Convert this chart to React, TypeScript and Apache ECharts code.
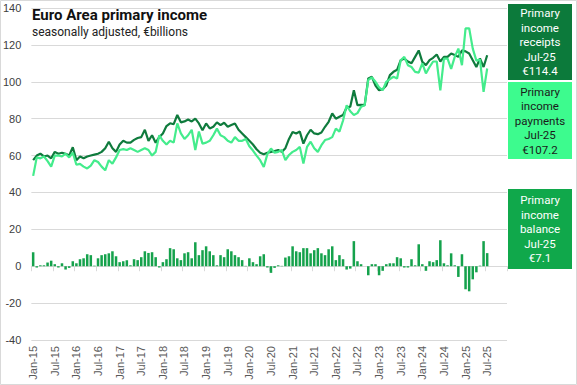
import React, { useEffect, useRef } from "react";
import * as echarts from "echarts";

const MONTHS = ["Jan", "Feb", "Mar", "Apr", "May", "Jun", "Jul", "Aug", "Sep", "Oct", "Nov", "Dec"];
const YEARS = ["15", "16", "17", "18", "19", "20", "21", "22", "23", "24", "25"];
const categories: string[] = [];
YEARS.forEach((y) => MONTHS.forEach((m) => categories.push(`${m}-${y}`)));

const receipts = [
  57.5, 60, 61, 59.5, 60, 58.5, 62, 61, 61.5, 61, 60, 64.5,
  57.5, 59.5, 58.5, 59.5, 60, 60.5, 61, 62, 64, 67.5, 64, 62,
  66, 68, 67, 67, 68.5, 69.5, 70, 74, 68, 71, 67, 70,
  72, 76, 77.5, 77, 82, 78, 78.5, 79.5, 78.5, 80, 77.4, 73.7,
  77.4, 74.7, 75.6, 78, 76.5, 77.8, 75.6, 76.5, 77.4, 74, 72, 70,
  68, 66, 63.4, 61.5, 60.7, 61.5, 62, 62.5, 63, 62, 64, 69,
  72.8, 72, 73, 66.5, 71, 74, 72, 71.6, 72.5, 75.6, 78.3, 82.8,
  80, 81, 82, 86, 86.5, 95.4, 87.3, 87.5, 87.3, 101.8, 102.7, 98,
  95.4, 96, 98, 103.6, 105.4, 106.5, 111.7, 112.6, 111, 110, 113.5, 117,
  110.8, 109, 111.7, 113, 114.8, 111, 113.5, 113.5, 115.3, 114.5, 113.5, 117,
  116.5, 115.3, 111.7, 108, 112.6, 108, 114.4,
];

const payments = [
  49, 59, 58.5, 59.5, 57, 54, 60, 60, 59.5, 61, 59, 61.5,
  55, 55.5, 54, 53, 54.5, 57.5, 56.5, 54, 52, 57.5, 55.6, 59,
  63, 63.5, 63, 64, 63, 62, 63, 64, 63, 60, 62, 71,
  68, 66, 68, 67, 77.4, 72, 69, 71, 74, 63, 73, 66.5,
  67, 68, 71, 74.6, 71, 70, 68, 67, 70, 68, 68, 69,
  65, 62.7, 60, 57.5, 53.8, 60.8, 63.8, 61.5, 62, 63, 57.5, 60.3,
  62, 63, 64.7, 55.7, 64.7, 67.5, 64, 62, 65.6, 68.4, 69, 70,
  74.6, 73, 79, 87.3, 84, 82, 83, 86.4, 87.3, 101, 102.3, 100,
  97, 95.4, 100, 101.5, 102.7, 101.8, 111.7, 113.5, 109, 108, 105.4, 105,
  110, 104.5, 108, 111, 111, 95.4, 112.6, 112.6, 107, 113.5, 118, 109,
  129, 129, 118, 111.5, 112, 94.5, 107.2,
];

const balance = [
  7.6, -0.7, 0.5, 0.5, 2, 3, 1.1, -0.7, 1.6, -1.8, -0.9, 2.7,
  1.6, 3.8, 4.3, 6.5, 6, 0.3, 4.3, 6, 6.5, 7, 8.1, 5.4,
  2.2, 2.7, 3.3, 0.5, 3.8, 3.3, 4.9, 8.1, 7.2, 7.6, 4.9, -0.7,
  2.2, 3.8, 9.8, 9.2, 4.3, 3.3, 7, 7.6, 4.3, 13, 6, 8.7,
  10.8, 8.1, 6, 0.5, 6, 4.9, 9.2, 8.1, 6, 4.9, 3.3, 0.2,
  4.3, 2.2, 1.1, 5.4, 6.5, -0.7, -3.6, -0.9, 0.5, 0.2, 4.7, 5.4,
  10.8, 8.1, 7.6, 9.8, 9.8, 7, 8.7, 9.8, 7, 6, 9.2, 10.8,
  3.3, 6, 3.8, -1.8, -1.3, 13.6, 2.7, 1.1, 0, -4.9, 1.1, 1.1,
  -4.9, -2.5, 1.1, 1.6, 1.6, 4.9, 4.3, -0.7, -0.7, 3.8, 0.5, 11.9,
  1.1, -2.5, 2.7, 2.2, 3.3, 14.1, 1.6, 0.5, 7, 0.5, -5.8, 6.5,
  -12.5, -13.6, -7.1, -3.3, 0.3, 13.6, 7.1,
];

const C_RECEIPTS = "#0f7b3d";
const C_PAYMENTS = "#44ec8c";
const C_BALANCE = "#15a24c";
const BOX_REC = "#0c7a3b";
const BOX_PAY = "#3dfb8e";
const BOX_BAL = "#10a84b";
const AXIS_TXT = "#595959";
const GRID = "#d9d9d9";

export default function App() {
  const ref = useRef<HTMLDivElement>(null);
  useEffect(() => {
    if (!ref.current) return;
    const chart = echarts.init(ref.current, null, { renderer: "svg" });
    const last = receipts.length - 1;
    const lastLabel = categories[last];
    const boxText = (name: string, v: number) =>
      `Primary\nincome\n${name}\n${lastLabel}\n€${v.toFixed(1)}`;
    const boxFont = "11.5px Roboto";
    const box = (y: number, h: number, fill: string, txt: string, color: string) => [
      { type: "rect", shape: { x: 508, y, width: 64, height: h }, style: { fill }, z: 100 },
      {
        type: "text",
        x: 540,
        y: y + h / 2,
        z: 101,
        style: {
          text: txt,
          font: boxFont,
          fill: color,
          align: "center",
          verticalAlign: "middle",
          textAlign: "center",
          textVerticalAlign: "middle",
          lineHeight: 14.5,
        },
      },
    ];
    chart.setOption({
      animation: false,
      backgroundColor: "#ffffff",
      grid: { left: 30, right: 70, top: 8, bottom: 45, containLabel: false },
      xAxis: [
        {
          type: "category",
          data: categories,
          boundaryGap: true,
          axisLine: { onZero: true, lineStyle: { color: GRID, width: 1 } },
          axisTick: { show: true, interval: 5, length: 5, lineStyle: { color: GRID } },
          axisLabel: { show: false },
          splitLine: { show: false },
        },
        {
          type: "category",
          data: categories,
          position: "bottom",
          boundaryGap: true,
          axisLine: { show: false, onZero: false },
          axisTick: { show: false },
          axisLabel: {
            interval: 5,
            rotate: 90,
            margin: 6,
            color: AXIS_TXT,
            fontSize: 11,
            fontFamily: "Liberation Sans, Arial, sans-serif",
          },
          splitLine: { show: false },
        },
      ],
      yAxis: {
        type: "value",
        min: -40,
        max: 140,
        interval: 20,
        axisLine: { show: false },
        axisTick: { show: false },
        axisLabel: {
          color: "#404040",
          fontSize: 11,
          margin: 10,
          fontFamily: "Liberation Sans, Arial, sans-serif",
        },
        splitLine: { lineStyle: { color: GRID, width: 1 } },
      },
      series: [
        {
          name: "Primary income balance",
          type: "bar",
          xAxisIndex: 0,
          data: balance,
          barWidth: "70%",
          itemStyle: { color: C_BALANCE },
        },
        {
          name: "Primary income receipts",
          type: "line",
          xAxisIndex: 0,
          data: receipts,
          symbol: "none",
          lineStyle: { color: C_RECEIPTS, width: 2.2 },
          z: 3,
        },
        {
          name: "Primary income payments",
          type: "line",
          xAxisIndex: 0,
          data: payments,
          symbol: "none",
          lineStyle: { color: C_PAYMENTS, width: 2.2 },
          z: 4,
        },
      ],
      graphic: [
        {
          type: "text",
          left: 32,
          top: 7,
          style: { text: "Euro Area primary income", font: "bold 15px Roboto", fill: "#111111" },
          z: 100,
        },
        {
          type: "text",
          left: 32,
          top: 26,
          style: { text: "seasonally adjusted, €billions", font: "12px Roboto", fill: "#222222" },
          z: 100,
        },
        ...box(4, 76, BOX_REC, boxText("receipts", receipts[last]), "#ffffff"),
        ...box(82, 77, BOX_PAY, boxText("payments", payments[last]), "#1a1a1a"),
        ...box(189, 80, BOX_BAL, boxText("balance", balance[last]), "#ffffff"),
        {
          type: "rect",
          shape: { x: 0.5, y: 0.5, width: 576, height: 384 },
          style: { fill: "none", stroke: GRID, lineWidth: 1 },
          z: 0,
        },
      ],
    });
    return () => chart.dispose();
  }, []);
  return (
    <div
      ref={ref}
      style={{ position: "absolute", left: 0, top: 0, width: 577, height: 385, background: "#fff" }}
    />
  );
}
